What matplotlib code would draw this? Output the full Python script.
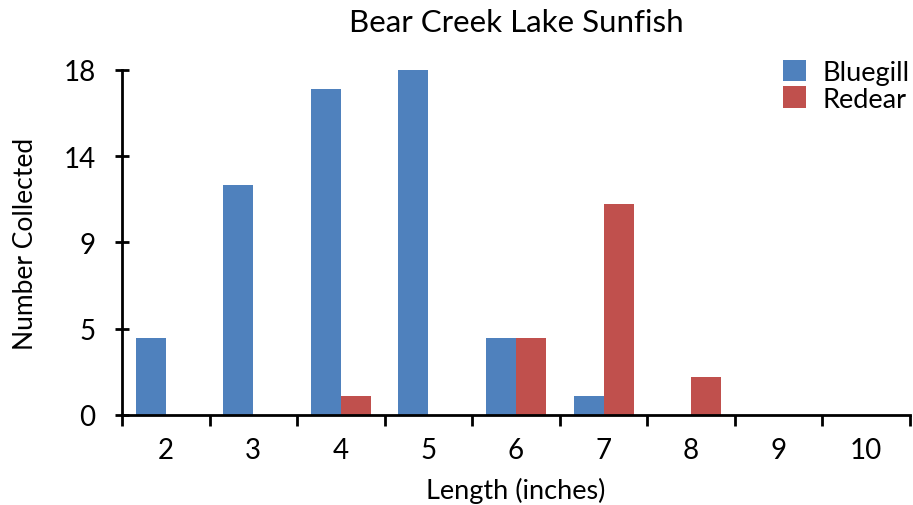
import matplotlib
matplotlib.use("Agg")
import matplotlib.pyplot as plt
import numpy as np
from matplotlib.ticker import FixedLocator

lengths = ["2", "3", "4", "5", "6", "7", "8", "9", "10"]
bluegill = [4, 12, 17, 18, 4, 1, 0, 0, 0]
redear = [0, 0, 1, 0, 4, 11, 2, 0, 0]
y_ticks = [0, 4.5, 9, 13.5, 18]
y_tick_labels = ["0", "5", "9", "14", "18"]

plt.rcParams['font.family'] = ['Lato', 'DejaVu Sans']

fig = plt.figure(figsize=(9.13, 5.06), dpi=100)
ax = fig.add_axes([0.1336, 0.178, 0.9967 - 0.1336, 0.8597 - 0.178])

x = np.arange(len(lengths))
w = 0.343
ax.bar(x - w / 2, bluegill, width=w, color="#4F81BD", label="Bluegill")
ax.bar(x + w / 2, redear, width=w, color="#C0504D", label="Redear")

ax.set_xlim(-0.5, len(lengths) - 0.5)
ax.set_ylim(0, 18)
ax.set_yticks(y_ticks)
ax.set_yticklabels(y_tick_labels)
ax.set_xticks(x)
ax.set_xticklabels(lengths)
ax.xaxis.set_minor_locator(FixedLocator(np.arange(-0.5, len(lengths), 1.0)))

for s in ["top", "right"]:
    ax.spines[s].set_visible(False)
for s in ["left", "bottom"]:
    ax.spines[s].set_linewidth(2)

ax.tick_params(axis="y", direction="inout", length=10, width=2, labelsize=20, pad=14)
ax.tick_params(axis="x", which="major", length=0, labelsize=20, pad=16)
ax.tick_params(axis="x", which="minor", direction="out", length=8, width=2)

ax.set_xlabel("Length (inches)", fontsize=19.5, labelpad=10)
ax.set_ylabel("Number Collected", fontsize=19, labelpad=18)
ax.set_title("Bear Creek Lake Sunfish", fontsize=22.5, pad=28)

leg = ax.legend(loc="upper right", bbox_to_anchor=(1.03, 1.10), frameon=False,
                fontsize=19.5, handlelength=0.85, handleheight=0.85,
                handletextpad=0.6, labelspacing=0.05)

fig.savefig("out.png", dpi=100)
